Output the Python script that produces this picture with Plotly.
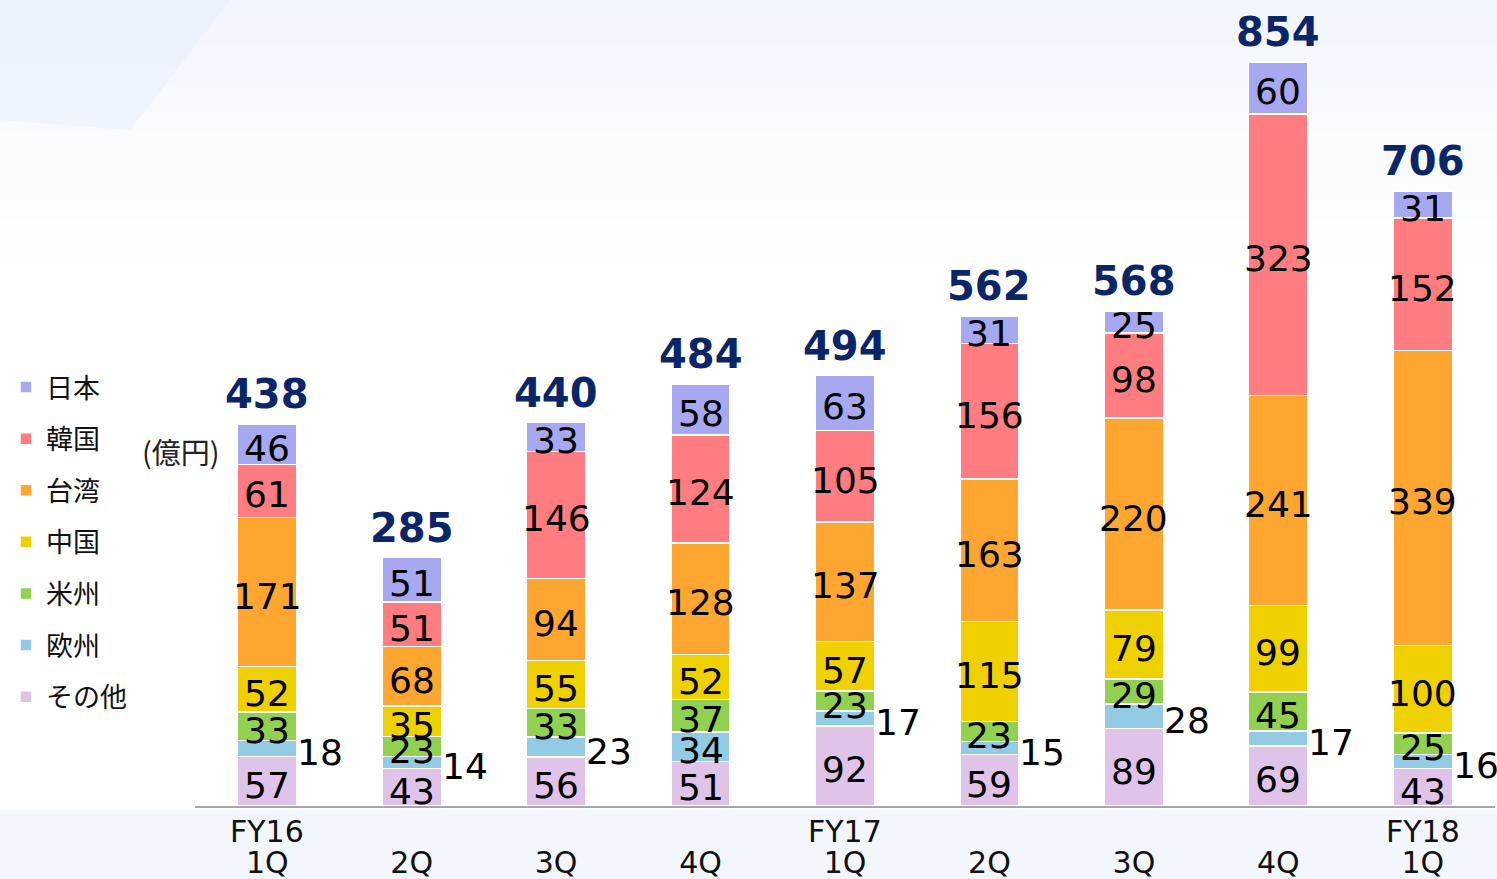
import numpy as np
import plotly.graph_objects as go

# ---- data ----
quarters = ["1Q", "2Q", "3Q", "4Q", "1Q", "2Q", "3Q", "4Q", "1Q"]
fiscal_years = ["FY16", "", "", "", "FY17", "", "", "", "FY18"]
# stacked bottom -> top
series_names = ["その他", "欧州", "米州", "中国", "台湾", "韓国", "日本"]
other  = [57, 43, 56, 51, 92, 59, 89, 69, 43]
europe = [18, 14, 23, 34, 17, 15, 28, 17, 16]
americas = [33, 23, 33, 37, 23, 23, 29, 45, 25]
china  = [52, 35, 55, 52, 57, 115, 79, 99, 100]
taiwan = [171, 68, 94, 128, 137, 163, 220, 241, 339]
korea  = [61, 51, 146, 124, 105, 156, 98, 323, 152]
japan  = [46, 51, 33, 58, 63, 31, 25, 60, 31]
totals = [438, 285, 440, 484, 494, 562, 568, 854, 706]
europe_inside = [False, False, False, True, False, False, False, False, False]

colors = ["#dfc3e9", "#92cbe3", "#92d050", "#efd000", "#ffa631", "#ff7c80", "#a6a8f0"]

series = [other, europe, americas, china, taiwan, korea, japan]
x = np.arange(len(quarters))

NUM_FONT = "DejaVu Sans"
CJK_FONT = "Noto Sans CJK JP"
LABEL_FONT = dict(family=NUM_FONT, size=36, color="black")

fig = go.Figure()

# bars
n_series = len(series_names)
for i, (name, vals, col) in enumerate(zip(series_names, series, colors)):
    fig.add_trace(go.Bar(
        x=x, y=vals, name=name, legendgroup=name, legendrank=n_series - i,
        marker=dict(color=col, line=dict(color="white", width=1.5)),
        width=0.41, hoverinfo="skip",
    ))

# segment labels (annotations, drawn above all bars)
cum = np.zeros(len(quarters))
for name, vals in zip(series_names, series):
    v = np.array(vals, dtype=float)
    mid = cum + v / 2
    for xi, m, val, k in zip(x, mid, vals, range(len(vals))):
        if name == "欧州" and not europe_inside[k]:
            fig.add_annotation(x=xi + 0.2, y=m, text=str(val), showarrow=False,
                               xanchor="left", yanchor="middle", yshift=-4,
                               borderpad=0, font=LABEL_FONT)
        else:
            fig.add_annotation(x=xi, y=m, text=str(val), showarrow=False,
                               xanchor="center", yanchor="middle", yshift=-4,
                               font=LABEL_FONT)
    cum = cum + v

# totals
for xi, t in zip(x, totals):
    fig.add_annotation(x=xi, y=t, text=f"<b>{t}</b>", showarrow=False,
                       yanchor="bottom", yshift=5,
                       font=dict(family=NUM_FONT, size=40, color="#0b2668"))

# fiscal-year line of the category labels
for xi, fy in zip(x, fiscal_years):
    if fy:
        fig.add_annotation(x=xi, y=-0.032, yref="paper", text=fy, showarrow=False,
                           yanchor="middle",
                           font=dict(family=NUM_FONT, size=30, color="#111111"))

# unit label
fig.add_annotation(xref="paper", yref="paper", x=0.021, y=0.452, xanchor="right",
                   text="(億円)", showarrow=False,
                   font=dict(family=CJK_FONT, size=29, color="#222222"))

# background decoration (paper coords: plot area is px x 195..1495, y 20..806)
def py(p):
    return (806 - p) / 786

shapes = []
for k in range(12):
    y0 = k * 22
    shapes.append(dict(type="rect", xref="paper", yref="paper", x0=-0.2, x1=1.1,
                       y0=py(y0 + 22), y1=py(y0),
                       fillcolor="#e2ebfb", opacity=0.45 * (1 - k / 12), line_width=0,
                       layer="below"))
shapes.append(dict(type="path", xref="paper", yref="paper",
                   path=f"M -0.2 {py(-5)} L 0.03 {py(-5)} L -0.05 {py(130)} L -0.2 {py(115)} Z",
                   fillcolor="#d6e6fb", opacity=0.25, line_width=0, layer="below"))
shapes.append(dict(type="rect", xref="paper", yref="paper", x0=-0.2, x1=1.1,
                   y0=py(885), y1=py(810), fillcolor="#eef3fc", opacity=0.7,
                   line_width=0, layer="below"))

fig.update_layout(
    width=1497, height=879,
    barmode="stack", bargap=0.59,
    paper_bgcolor="white", plot_bgcolor="rgba(0,0,0,0)",
    margin=dict(l=195, r=2, t=20, b=73, autoexpand=False),
    showlegend=True,
    legend=dict(xref="paper", yref="container", x=-189 / 1300, y=1 - 363 / 879,
                xanchor="left", yanchor="top",
                traceorder="grouped", tracegroupgap=13.5,
                font=dict(family=CJK_FONT, size=27, color="#111111"),
                bgcolor="rgba(0,0,0,0)", itemwidth=30),
    xaxis=dict(tickmode="array", tickvals=x, ticktext=quarters,
               range=[-0.5, len(quarters) - 0.5], automargin=False,
               showgrid=False, zeroline=False, showline=True,
               linecolor="#a6a6a6", linewidth=2, ticks="",
               ticklabelstandoff=29,
               tickfont=dict(family=NUM_FONT, size=30, color="#111111")),
    yaxis=dict(range=[0, 902], visible=False, showgrid=False, zeroline=False,
               automargin=False),
    shapes=shapes,
)

# remove the browser's default page margin so the 1497x879 figure fills the window
fig.write_html("out.html", config={"displayModeBar": False},
               post_script="document.body.style.margin='0';")
